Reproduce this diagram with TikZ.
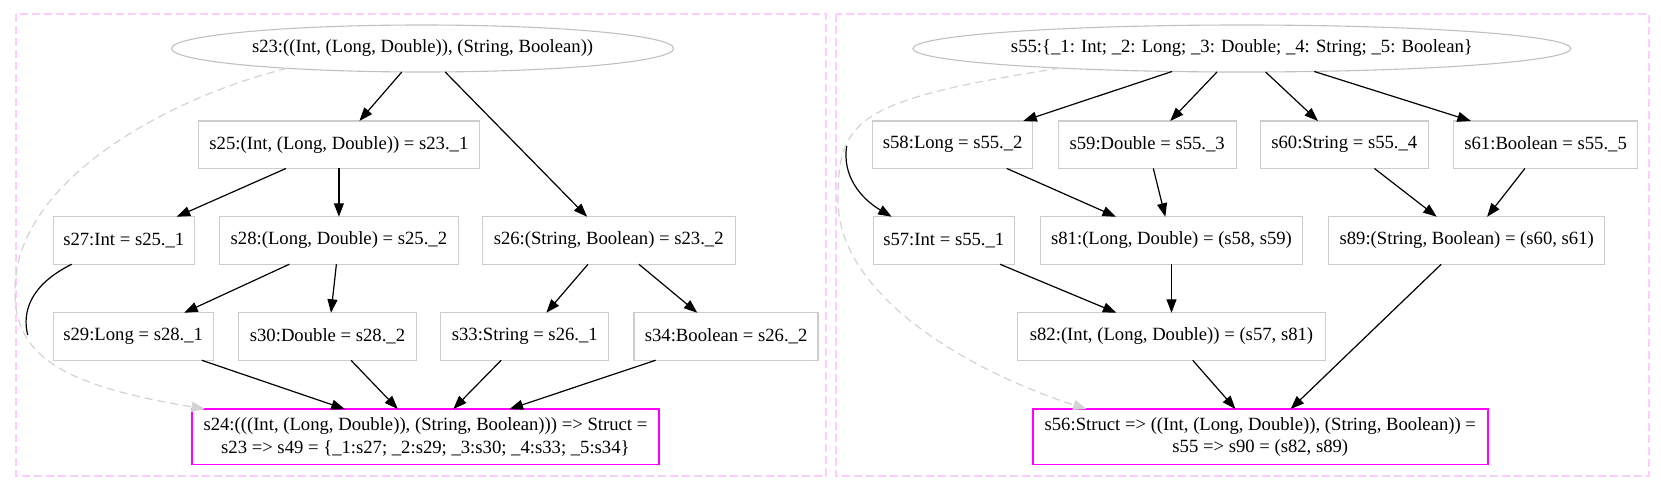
\documentclass[tikz,border=0pt]{standalone}
\usepackage{fontspec}
\setmainfont{Liberation Serif}
\usetikzlibrary{arrows.meta,shapes.geometric}
\definecolor{boxgray}{RGB}{204,204,204}
\definecolor{ellgray}{RGB}{192,192,192}
\definecolor{clpink}{RGB}{255,204,255}
\definecolor{dashgray}{RGB}{211,211,211}
\definecolor{mag}{RGB}{255,0,255}
\begin{document}
\begin{tikzpicture}[x=1pt,y=-1pt,
  every node/.style={font=\fontsize{18.67}{22.5}\selectfont, inner sep=0pt, outer sep=0pt},
  box/.style={draw=boxgray, line width=1.3pt, minimum height=47.5pt},
  ellnode/.style={draw=ellgray, line width=1.1pt, ellipse, minimum height=47pt},
  magbox/.style={draw=mag, line width=1.4pt, minimum height=55.5pt, align=center},
  cluster/.style={draw=clpink, line width=1.1pt, dash pattern=on 8pt off 4pt},
  edge/.style={draw=black, line width=1.2pt, -{Triangle[length=13.5pt,width=10pt]}},
  plain/.style={draw=black, line width=1.2pt},
  dedge/.style={draw=dashgray, line width=1.2pt, dash pattern=on 8pt off 5pt, -{Triangle[length=13.5pt,width=10pt,fill=dashgray]}}
]
\useasboundingbox (0,0) rectangle (1661,493);
\draw[cluster] (16,14) rectangle (826,476);
\draw[cluster] (836,14) rectangle (1649,476);

% left graph
\node[ellnode, minimum width=502pt] (s23) at (422.6,48.5) {s23:((Int, (Long, Double)), (String, Boolean))};
\node[box, minimum width=281pt] (s25) at (338.9,144.7) {s25:(Int, (Long, Double)) = s23.\_1};
\node[box, minimum width=141pt] (s27) at (123.8,240.5) {s27:Int = s25.\_1};
\node[box, minimum width=239pt] (s28) at (338.9,240.5) {s28:(Long, Double) = s25.\_2};
\node[box, minimum width=253pt] (s26) at (608.7,240.5) {s26:(String, Boolean) = s23.\_2};
\node[box, minimum width=160pt] (s29) at (133.2,336.5) {s29:Long = s28.\_1};
\node[box, minimum width=178pt] (s30) at (327.5,336.5) {s30:Double = s28.\_2};
\node[box, minimum width=168pt] (s33) at (524.8,336.5) {s33:String = s26.\_1};
\node[box, minimum width=184pt] (s34) at (726.1,336.5) {s34:Boolean = s26.\_2};
\node[magbox, minimum width=467pt] (s24) at (425.4,436.8) {s24:(((Int, (Long, Double)), (String, Boolean))) => Struct =\\s23 => s49 = \{\_1:s27; \_2:s29; \_3:s30; \_4:s33; \_5:s34\}};

% right graph
\node[ellnode, minimum width=658pt] (s55) at (1241.9,48.5) {s55:\{\_1: Int; \_2: Long; \_3: Double; \_4: String; \_5: Boolean\}};
\node[box, minimum width=160pt] (s58) at (952.7,144.7) {s58:Long = s55.\_2};
\node[box, minimum width=178pt] (s59) at (1147.2,144.7) {s59:Double = s55.\_3};
\node[box, minimum width=168pt] (s60) at (1344.3,144.7) {s60:String = s55.\_4};
\node[box, minimum width=184pt] (s61) at (1545.6,144.7) {s61:Boolean = s55.\_5};
\node[box, minimum width=141pt] (s57) at (943.8,240.5) {s57:Int = s55.\_1};
\node[box, minimum width=262pt] (s81) at (1171.5,240.5) {s81:(Long, Double) = (s58, s59)};
\node[box, minimum width=276pt] (s89) at (1466.7,240.5) {s89:(String, Boolean) = (s60, s61)};
\node[box, minimum width=308pt] (s82) at (1171.5,336.5) {s82:(Int, (Long, Double)) = (s57, s81)};
\node[magbox, minimum width=455pt] (s56) at (1260.3,436.8) {s56:Struct => ((Int, (Long, Double)), (String, Boolean)) =\\s55 => s90 = (s82, s89)};

% left edges
\draw[edge] ([xshift=-20.8pt]s23.south) -- ([xshift=20.5pt]s25.north);
\draw[edge] ([xshift=22.6pt]s23.south) -- ([xshift=-21.6pt]s26.north);
\draw[edge] ([xshift=-52.9pt]s25.south) -- ([xshift=52.9pt]s27.north);
\draw[edge] (s25.south) -- (s28.north);
\draw[edge] ([xshift=-49.6pt]s28.south) -- ([xshift=51pt]s29.north);
\draw[edge] ([xshift=-2.5pt]s28.south) -- ([xshift=3.5pt]s30.north);
\draw[edge] ([xshift=-20.7pt]s26.south) -- ([xshift=21.5pt]s33.north);
\draw[edge] ([xshift=30.2pt]s26.south) -- ([xshift=-28.8pt]s34.north);
\draw[edge] ([xshift=68.5pt]s29.south) -- ([xshift=-80.6pt]s24.north);
\draw[edge] ([xshift=23.5pt]s30.south) -- ([xshift=-27.6pt]s24.north);
\draw[edge] ([xshift=-23.6pt]s33.south) -- ([xshift=27.9pt]s24.north);
\draw[edge] ([xshift=-70.5pt]s34.south) -- ([xshift=84.2pt]s24.north);
\coordinate (k27) at (27.7,335);
\draw[plain] ([xshift=-52.1pt]s27.south) .. controls (30,285) and (22,312) .. (k27);
\draw[dedge] ([xshift=-135.6pt,yshift=3.6pt]s23.south) .. controls (170,97) and (15,180) .. (15,290) .. controls (14,355) and (60,385) .. ([xshift=-220.4pt]s24.north);

% right edges
\draw[edge] ([xshift=-69.9pt,yshift=0.5pt]s55.south) -- ([xshift=70.6pt]s58.north);
\draw[edge] ([xshift=-24.9pt]s55.south) -- ([xshift=23pt]s59.north);
\draw[edge] ([xshift=23.7pt]s55.south) -- ([xshift=-26.4pt]s60.north);
\draw[edge] ([xshift=72.4pt,yshift=0.5pt]s55.south) -- ([xshift=-74.7pt]s61.north);
\draw[edge] ([xshift=54pt]s58.south) -- ([xshift=-55.5pt]s81.north);
\draw[edge] ([xshift=6.1pt]s59.south) -- ([xshift=-6.2pt]s81.north);
\draw[edge] ([xshift=30.1pt]s60.south) -- ([xshift=-30pt]s89.north);
\draw[edge] ([xshift=-20.7pt]s61.south) -- ([xshift=20.4pt]s89.north);
\draw[edge] ([xshift=56.2pt]s57.south) -- ([xshift=-55.1pt]s82.north);
\draw[edge] (s81.south) -- (s82.north);
\draw[edge] ([xshift=21.2pt]s82.south) -- ([xshift=-24.8pt]s56.north);
\draw[edge] ([xshift=-25.5pt]s89.south) -- ([xshift=30.3pt]s56.north);
\coordinate (k57) at (846.7,146);
\draw[edge] (k57) .. controls (842,175) and (860,198) .. ([xshift=-52.1pt]s57.north);
\draw[dedge] ([xshift=-181.9pt,yshift=3.9pt]s55.south) .. controls (855,100) and (838,120) .. (838,200) .. controls (838,300) and (980,375) .. ([xshift=-173.6pt]s56.north);
\end{tikzpicture}
\end{document}
